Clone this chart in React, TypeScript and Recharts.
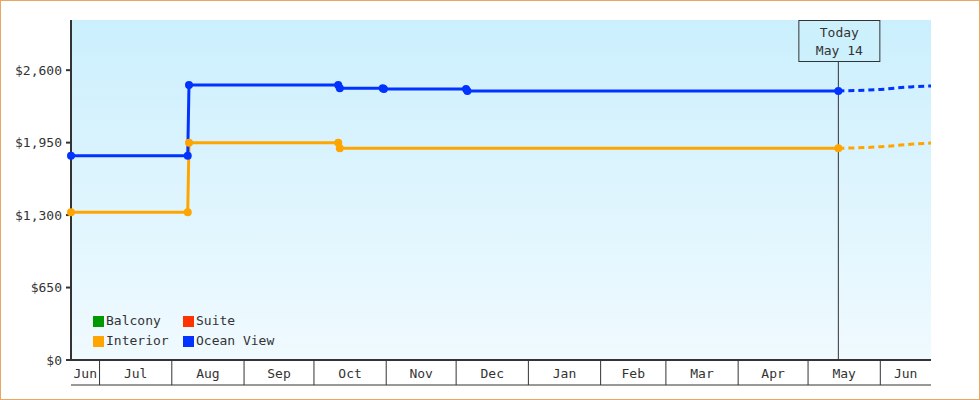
import { LineChart, Line, XAxis, YAxis, CartesianGrid, ReferenceLine } from 'recharts';

// x domain (UTC)
const domainStart = Date.parse('2024-06-18T18:00:00Z');
const domainEnd = Date.parse('2025-06-22T18:00:00Z');

const monthStartDates = [
  '2024-07-01', '2024-08-01', '2024-09-01', '2024-10-01', '2024-11-01', '2024-12-01',
  '2025-01-01', '2025-02-01', '2025-03-01', '2025-04-01', '2025-05-01', '2025-06-01',
];
const monthLabels = ['Jun', 'Jul', 'Aug', 'Sep', 'Oct', 'Nov', 'Dec', 'Jan', 'Feb', 'Mar', 'Apr', 'May', 'Jun'];

const priceTicks = [0, 650, 1300, 1950, 2600];

const interiorDates = [
  '2024-06-18T18:00', '2024-08-07T20:00', '2024-08-08T09:00',
  '2024-10-11T10:00', '2024-10-12T02:00', '2025-05-14T00:00',
];
const interiorPrices = [1325, 1325, 1949, 1949, 1899, 1899];

const oceanDates = [
  '2024-06-18T18:00', '2024-08-07T20:00', '2024-08-08T09:00',
  '2024-10-11T10:00', '2024-10-12T02:00', '2024-10-30T12:00', '2024-10-31T00:00',
  '2024-12-05T06:00', '2024-12-05T20:00', '2025-05-14T00:00',
];
const oceanPrices = [1833, 1833, 2467, 2467, 2437, 2437, 2431, 2431, 2413, 2413];

const interiorForecastDates = ['2025-05-14T00:00', '2025-06-01T00:00', '2025-06-15T00:00', '2025-06-22T18:00'];
const interiorForecast = [1899, 1913, 1937, 1946];
const oceanForecastDates = ['2025-05-14T00:00', '2025-06-01T00:00', '2025-06-15T00:00', '2025-06-22T18:00'];
const oceanForecast = [2413, 2427, 2452, 2458];

const todayDate = '2025-05-14T00:00';
const todayLabel = 'May 14';

const legendItems = [
  { name: 'Balcony', color: '#009900' },
  { name: 'Suite', color: '#ff3300' },
  { name: 'Interior', color: '#ffa500' },
  { name: 'Ocean View', color: '#0033ff' },
];

const FONT = '"DejaVu Sans Mono", monospace';
const INK = '#333';

const toTime = (s: string) => Date.parse(s + 'Z');
const series = (dates: string[], values: number[]) => dates.map((d, i) => ({ t: toTime(d), v: values[i] }));

const monthStarts = monthStartDates.map((d) => toTime(d + 'T00:00'));
const bounds = [domainStart, ...monthStarts, domainEnd];
const monthMids = monthLabels.map((_, i) => (bounds[i] + bounds[i + 1]) / 2);

const interiorData = series(interiorDates, interiorPrices);
const oceanData = series(oceanDates, oceanPrices);
const interiorFc = series(interiorForecastDates, interiorForecast);
const oceanFc = series(oceanForecastDates, oceanForecast);

function MonthTick(props: any) {
  const { x, y, payload } = props;
  return (
    <text x={x} y={y - 7} textAnchor="middle" fill={INK} fontSize={13} fontFamily={FONT}>
      {monthLabels[payload.index]}
    </text>
  );
}

function TodayLabel(props: any) {
  const { viewBox } = props;
  const cx = viewBox.x;
  const top = viewBox.y;
  return (
    <g>
      <rect x={cx - 39.5} y={top + 0.5} width={81} height={41} fill="#cdf0fd" stroke={INK} strokeWidth={1} />
      <text x={cx + 1} y={top + 17} textAnchor="middle" fill={INK} fontSize={13} fontFamily={FONT}>Today</text>
      <text x={cx + 1} y={top + 35} textAnchor="middle" fill={INK} fontSize={13} fontFamily={FONT}>{todayLabel}</text>
    </g>
  );
}

export default function App() {
  return (
    <div
      style={{
        position: 'absolute', left: 0, top: 0, width: 980, height: 400,
        background: '#fff', boxShadow: 'inset 0 0 0 1px #e8a862', fontFamily: FONT,
      }}
    >
      <LineChart width={980} height={400} margin={{ top: 20, right: 49, bottom: 0, left: 0 }}>
        <defs>
          <linearGradient id="bgGrad" x1="0" y1="0" x2="0" y2="1">
            <stop offset="0%" stopColor="#cbeffd" />
            <stop offset="100%" stopColor="#f0faff" />
          </linearGradient>
        </defs>
        <CartesianGrid fill="url(#bgGrad)" stroke="none" horizontal={false} vertical={false} xAxisId="a" />
        <XAxis
          xAxisId="a" dataKey="t" type="number" domain={[domainStart, domainEnd]}
          ticks={monthStarts} interval={0} height={25} tickSize={25} tickFormatter={() => ''}
          axisLine={{ stroke: INK, strokeWidth: 2 }} tickLine={{ stroke: INK, strokeWidth: 1 }}
        />
        <XAxis
          xAxisId="b" dataKey="t" type="number" domain={[domainStart, domainEnd]} allowDataOverflow
          ticks={monthMids} interval={0} height={15} tickSize={0} tickMargin={0} tickLine={false}
          axisLine={{ stroke: INK, strokeWidth: 1 }} tick={<MonthTick />}
        />
        <YAxis
          type="number" domain={[0, 3050]} ticks={priceTicks} width={71} interval={0}
          tickFormatter={(v) => `$${v.toLocaleString('en-US')}`}
          tick={{ fill: INK, fontSize: 13, fontFamily: FONT }}
          tickSize={5} tickMargin={4}
          axisLine={{ stroke: INK, strokeWidth: 2 }} tickLine={{ stroke: INK, strokeWidth: 2 }}
        />
        <ReferenceLine xAxisId="a" x={toTime(todayDate)} stroke={INK} strokeWidth={1} label={<TodayLabel />} />
        <Line
          xAxisId="a" data={interiorFc} dataKey="v" type="monotone" stroke="#ffa500" strokeWidth={3}
          strokeDasharray="6 4" dot={false} isAnimationActive={false}
        />
        <Line
          xAxisId="a" data={oceanFc} dataKey="v" type="monotone" stroke="#0033ff" strokeWidth={3}
          strokeDasharray="6 4" dot={false} isAnimationActive={false}
        />
        <Line
          xAxisId="a" data={interiorData} dataKey="v" type="linear" stroke="#ffa500" strokeWidth={3}
          dot={{ r: 4, fill: '#ffa500', stroke: 'none' }} isAnimationActive={false}
        />
        <Line
          xAxisId="a" data={oceanData} dataKey="v" type="linear" stroke="#0033ff" strokeWidth={3}
          dot={{ r: 4, fill: '#0033ff', stroke: 'none' }} isAnimationActive={false}
        />
      </LineChart>
      <div
        style={{
          position: 'absolute', left: 93, top: 313, display: 'grid',
          gridTemplateColumns: '90px auto', rowGap: 4, fontSize: 13, color: INK, lineHeight: '16px',
        }}
      >
        {legendItems.map((item) => (
          <div key={item.name} style={{ display: 'flex', alignItems: 'center' }}>
            <span style={{ width: 11, height: 11, background: item.color, marginRight: 2, display: 'inline-block' }} />
            <span>{item.name}</span>
          </div>
        ))}
      </div>
    </div>
  );
}
